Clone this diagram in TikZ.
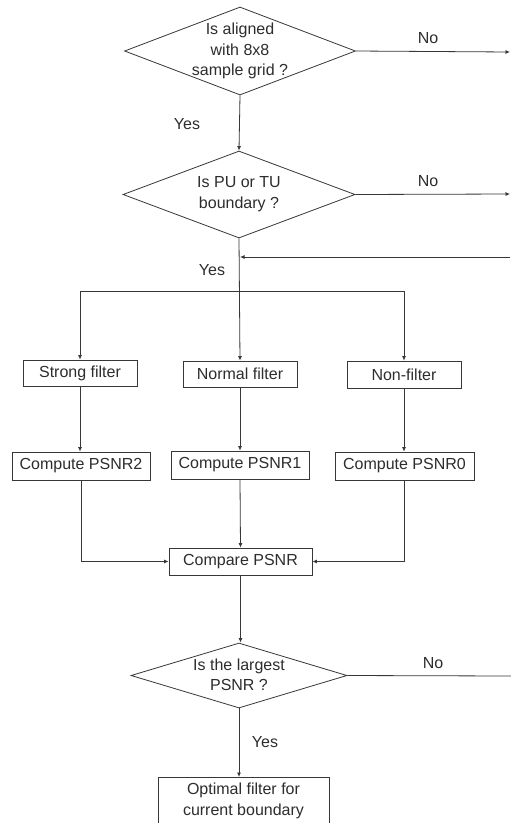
\documentclass[tikz,border=0pt]{standalone}
\usepackage{fontspec}
\setmainfont{Liberation Sans}
\usetikzlibrary{shapes.geometric,arrows.meta}
\definecolor{ln}{RGB}{55,55,55}
\definecolor{tx}{RGB}{45,45,45}
\begin{document}
\begin{tikzpicture}[x=1pt,y=-1pt,
  font=\fontsize{16}{20.5}\selectfont, color=ln, text=tx, line width=0.8pt,
  arr/.style={-{Latex[length=4.5pt,width=4pt]}},
  dia/.style={diamond, draw=ln, inner sep=0pt},
  box/.style={rectangle, draw=ln, inner sep=0pt, align=center},
  txt/.style={align=center, inner sep=0pt, text=tx},
  lab/.style={inner sep=0pt, text=tx}]
\useasboundingbox (0,0) rectangle (511,823);
\fill[white] (0,0) rectangle (511,823);

% decisions
\node[dia, minimum width=231pt, minimum height=88pt] (d1) at (240,51) {};
\node[txt] (t1) at (240,51) {Is aligned\\with 8x8\\sample grid ?};
\node[dia, minimum width=232pt, minimum height=87pt] (d2) at (239,194.5) {};
\node[txt] (t2) at (239,194) {Is PU or TU\\boundary ?};
\node[dia, minimum width=216pt, minimum height=65pt] (d3) at (239,675.5) {};
\node[txt] (t3) at (239,675) {Is the largest\\PSNR ?};

% boxes
\node[box, minimum width=114pt, minimum height=26pt] (sf) at (80,373) {Strong filter};
\node[box, minimum width=114pt, minimum height=26pt] (nf) at (240,374) {Normal filter};
\node[box, minimum width=114pt, minimum height=27pt] (xf) at (404,374.5) {Non-filter};
\node[box, minimum width=138pt, minimum height=28pt] (p2) at (81,466) {Compute PSNR2};
\node[box, minimum width=138pt, minimum height=28pt] (p1) at (240,465) {Compute PSNR1};
\node[box, minimum width=139pt, minimum height=28pt] (p0) at (404.5,466) {Compute PSNR0};
\node[box, minimum width=143pt, minimum height=27pt] (cmp) at (240.5,561.5) {Compare PSNR};
\node[box, minimum width=171pt, minimum height=54pt, anchor=north] (opt) at (243.5,777) {};
\node[txt] (t4) at (243.5,801) {Optimal filter for\\current boundary};

% free ends
\coordinate (e1) at (510,52);
\coordinate (e2) at (510,194);
\coordinate (e3) at (510,257);
\coordinate (j3) at (240,257);
\coordinate (e4) at (511,676);
\coordinate (bl) at (80,291);
\coordinate (br) at (404,291);

% connectors
\draw[arr] (d1.south) -- (d2.north);
\draw[arr] (d1.east) -- (e1);
\draw[arr] (d2.east) -- (e2);
\draw[arr] (e3) -- (j3);
\draw[arr] (d2.south) -- (nf.north);
\draw (bl) -- (br);
\draw[arr] (bl) -- (sf.north);
\draw[arr] (br) -- (xf.north);
\draw[arr] (sf.south) -- (sf.south |- p2.north);
\draw[arr] (nf.south) -- (p1.north);
\draw[arr] (xf.south) -- (xf.south |- p0.north);
\draw[arr] (p2.south) |- (cmp.west);
\draw[arr] (p0.south) |- (cmp.east);
\draw[arr] (p1.south) -- (cmp.north);
\draw[arr] (cmp.south) -- (cmp.south |- d3.north);
\draw (d3.east) -- (e4);
\draw[arr] (d3.south) -- (d3.south |- opt.north);

% labels
\node[lab] (n1) at (428,38) {No};
\node[lab] (n2) at (428,181) {No};
\node[lab] (n3) at (433,663) {No};
\node[lab] (y1) at (187,124) {Yes};
\node[lab] (y2) at (212,270) {Yes};
\node[lab] (y3) at (265,742) {Yes};
\end{tikzpicture}
\end{document}
